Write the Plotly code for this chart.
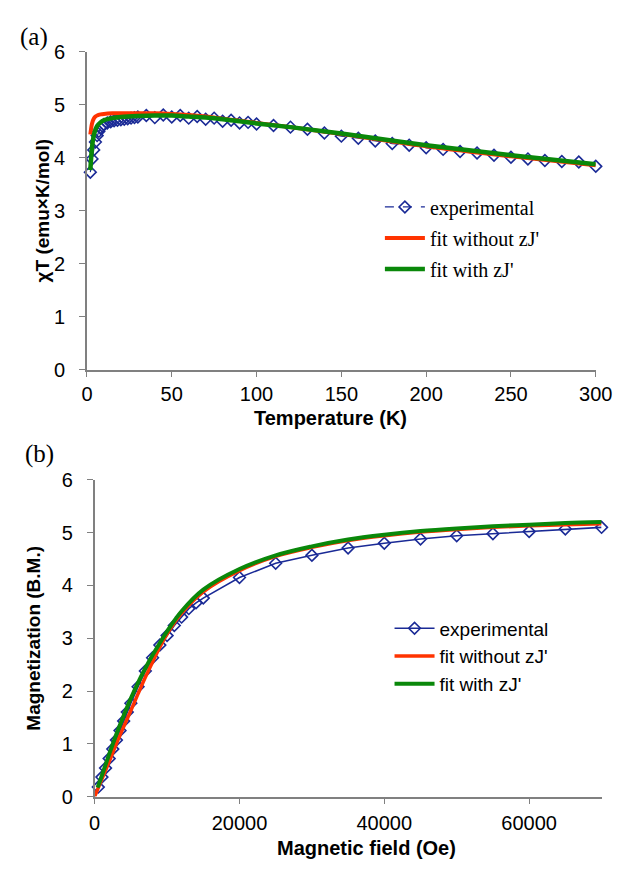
import plotly.graph_objects as go

# ---------------- (a) chi*T vs T ----------------
T_exp = [2, 3, 4, 5, 6, 7, 8, 9, 10, 12, 14, 16, 18, 20, 22, 24, 26, 28, 30,
         35, 40, 45, 50, 55, 60, 65, 70, 75, 80, 85, 90, 95, 100,
         110, 120, 130, 140, 150, 160, 170, 180, 190, 200, 210, 220, 230,
         240, 250, 260, 270, 280, 290, 300]
chiT_exp = [3.73, 3.98, 4.15, 4.30, 4.42, 4.50, 4.56, 4.60, 4.63, 4.66, 4.68, 4.70, 4.71, 4.72,
            4.73, 4.74, 4.75, 4.76, 4.77,
            4.80, 4.76, 4.81, 4.77, 4.80, 4.75, 4.78, 4.73, 4.75, 4.69, 4.71, 4.66, 4.67, 4.64,
            4.61, 4.58, 4.54, 4.47, 4.41, 4.37, 4.32, 4.27, 4.24, 4.19, 4.16, 4.12, 4.09,
            4.05, 4.01, 3.98, 3.95, 3.93, 3.92, 3.84]

T_fit = [2, 3, 4, 5, 6, 8, 10, 15, 20, 30, 40, 50, 60, 70, 80, 90, 100, 120, 150, 200, 250, 300]
chiT_fit_no = [4.44, 4.65, 4.74, 4.78, 4.80, 4.82, 4.83, 4.84, 4.84, 4.84, 4.84, 4.83, 4.81,
               4.78, 4.74, 4.70, 4.66, 4.58, 4.45, 4.22, 4.03, 3.86]
chiT_fit_zj = [3.77, 4.20, 4.42, 4.53, 4.60, 4.67, 4.71, 4.75, 4.77, 4.79, 4.80, 4.80, 4.78,
               4.76, 4.73, 4.69, 4.65, 4.58, 4.46, 4.24, 4.05, 3.88]

# ---------------- (b) M vs H ----------------
H_exp = [500, 1000, 1500, 2000, 2500, 3000, 3500, 4000, 4500, 5000, 6000, 7000, 8000, 9000,
         10000, 11000, 12000, 13000, 14000, 15000, 20000, 25000, 30000, 35000, 40000, 45000,
         50000, 55000, 60000, 65000, 70000]
M_exp = [0.18, 0.37, 0.54, 0.72, 0.90, 1.07, 1.25, 1.43, 1.60, 1.77, 2.08, 2.38, 2.63, 2.87,
         3.05, 3.24, 3.40, 3.56, 3.67, 3.76, 4.15, 4.42, 4.57, 4.71, 4.80, 4.88,
         4.94, 4.98, 5.02, 5.07, 5.10]

H_fit_no = [0, 1000, 2000, 3000, 4000, 5000, 6000, 7000, 8000, 9000, 10000, 12000, 15000,
            20000, 25000, 30000, 35000, 40000, 45000, 50000, 55000, 60000, 65000, 70000]
M_fit_no = [0.0, 0.33, 0.66, 1.00, 1.32, 1.63, 1.95, 2.26, 2.55, 2.83, 3.08, 3.47, 3.88,
            4.28, 4.55, 4.72, 4.85, 4.94, 5.01, 5.06, 5.10, 5.13, 5.15, 5.17]
H_fit_zj = [400, 1000, 2000, 3000, 4000, 5000, 6000, 7000, 8000, 9000, 10000, 12000, 15000,
            20000, 25000, 30000, 35000, 40000, 45000, 50000, 55000, 60000, 65000, 70000]
M_fit_zj = [0.17, 0.40, 0.80, 1.18, 1.53, 1.86, 2.16, 2.43, 2.68, 2.91, 3.13, 3.51, 3.92,
            4.31, 4.57, 4.74, 4.87, 4.96, 5.03, 5.08, 5.12, 5.15, 5.18, 5.20]

x_ticks_a = [0, 50, 100, 150, 200, 250, 300]
x_ticks_b = [0, 20000, 40000, 60000]
y_ticks = [0, 1, 2, 3, 4, 5, 6]

NAVY = "#1a2a96"
RED = "#ff3300"
GREEN = "#0a880a"
AXC = "#808080"
W, H = 633, 869

fig = go.Figure()

fig.add_trace(go.Scatter(x=T_exp, y=chiT_exp, mode="lines+markers", name="experimental",
                         line=dict(color=NAVY, width=1.2, dash="dash"),
                         marker=dict(symbol="diamond-open", size=9, color=NAVY, line=dict(width=1.6)),
                         xaxis="x", yaxis="y", legend="legend", legendgroup="a1", cliponaxis=False))
fig.add_trace(go.Scatter(x=T_fit, y=chiT_fit_no, mode="lines", name="fit without zJ'",
                         line=dict(color=RED, width=4, shape="spline"),
                         xaxis="x", yaxis="y", legend="legend", legendgroup="a2", cliponaxis=False))
fig.add_trace(go.Scatter(x=T_fit, y=chiT_fit_zj, mode="lines", name="fit with zJ'",
                         line=dict(color=GREEN, width=4.5, shape="spline"),
                         xaxis="x", yaxis="y", legend="legend", legendgroup="a3", cliponaxis=False))

fig.add_trace(go.Scatter(x=H_exp, y=M_exp, mode="lines+markers", name="experimental",
                         line=dict(color=NAVY, width=1.6),
                         marker=dict(symbol="diamond-open", size=9, color=NAVY, line=dict(width=1.6)),
                         xaxis="x2", yaxis="y2", legend="legend2", cliponaxis=False))
fig.add_trace(go.Scatter(x=H_fit_no, y=M_fit_no, mode="lines", name="fit without zJ'",
                         line=dict(color=RED, width=3.5, shape="spline"),
                         xaxis="x2", yaxis="y2", legend="legend2", cliponaxis=False))
fig.add_trace(go.Scatter(x=H_fit_zj, y=M_fit_zj, mode="lines", name="fit with zJ'",
                         line=dict(color=GREEN, width=4, shape="spline"),
                         xaxis="x2", yaxis="y2", legend="legend2", cliponaxis=False))

def px_x(p):
    return p / W

def px_y(p):
    return 1 - p / H

tickfont = dict(family="Arial", size=20, color="black")
common = dict(showgrid=False, zeroline=False, showline=True, linecolor=AXC, linewidth=1.5,
              ticks="outside", ticklen=6, tickwidth=1.3, tickcolor=AXC, tickfont=tickfont)

fig.update_layout(
    width=W, height=H, margin=dict(l=0, r=0, t=0, b=0),
    paper_bgcolor="white", plot_bgcolor="white",
    xaxis=dict(domain=[px_x(84), px_x(612)], range=[0, 300], tickvals=x_ticks_a,
               anchor="y", ticklabelstandoff=0, **common),
    yaxis=dict(domain=[px_y(368), px_y(42)], range=[0, 6], tickvals=y_ticks,
               anchor="x", ticklabelstandoff=10, **common),
    xaxis2=dict(domain=[px_x(92), px_x(618)], range=[0, 70000], tickvals=x_ticks_b,
                tickformat="d", anchor="y2", ticklabelstandoff=2, **common),
    yaxis2=dict(domain=[px_y(806), px_y(481)], range=[0, 6], tickvals=y_ticks,
                anchor="x2", ticklabelstandoff=10, **common),
    legend=dict(x=px_x(388), y=px_y(181), xanchor="left", yanchor="top",
                font=dict(family="Liberation Serif, Times New Roman", size=20, color="black"),
                bgcolor="rgba(0,0,0,0)", itemwidth=40, traceorder="grouped", tracegroupgap=2),
    legend2=dict(x=px_x(398), y=px_y(614), xanchor="left", yanchor="top",
                 font=dict(family="Arial", size=19, color="black"),
                 bgcolor="rgba(0,0,0,0)", itemwidth=40, tracegroupgap=0),
    showlegend=True,
)

ann = [
    dict(text="(a)", x=px_x(12), y=px_y(27), xanchor="left", yanchor="middle",
         font=dict(family="Liberation Serif, Times New Roman", size=25, color="black")),
    dict(text="(b)", x=px_x(18), y=px_y(454), xanchor="left", yanchor="middle",
         font=dict(family="Liberation Serif, Times New Roman", size=25, color="black")),
    dict(text="<b>Temperature (K)</b>", x=px_x(337), y=px_y(418), xanchor="center", yanchor="middle",
         font=dict(family="Arial", size=20, color="black")),
    dict(text="<b>χT (emu×K/mol)</b>", x=px_x(38), y=px_y(205), xanchor="center", yanchor="middle",
         textangle=-90, font=dict(family="Arial", size=19, color="black")),
    dict(text="<b>Magnetic field (Oe)</b>", x=px_x(374), y=px_y(859), xanchor="center", yanchor="middle",
         font=dict(family="Arial", size=20, color="black")),
    dict(text="<b>Magnetization (B.M.)</b>", x=px_x(29), y=px_y(643), xanchor="center", yanchor="middle",
         textangle=-90, font=dict(family="Arial", size=19, color="black")),
]
for a in ann:
    a.update(xref="paper", yref="paper", showarrow=False)
fig.update_layout(annotations=ann)

fig.write_html("out.html")
